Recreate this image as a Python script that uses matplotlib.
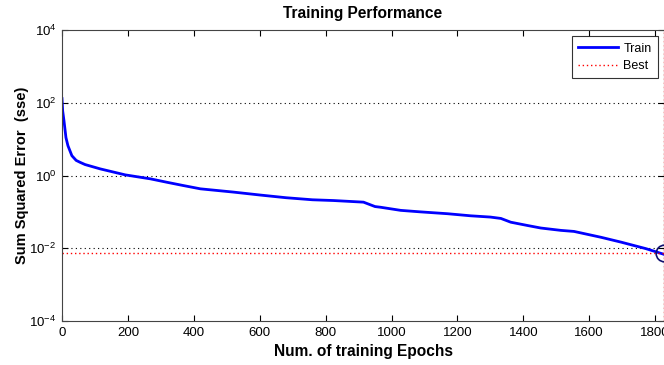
import numpy as np
import matplotlib
matplotlib.use('Agg')
import matplotlib.pyplot as plt

plt.rcParams['font.family'] = ['Liberation Sans', 'DejaVu Sans']
plt.rcParams['mathtext.fontset'] = 'custom'
plt.rcParams['mathtext.rm'] = 'Liberation Sans'
plt.rcParams['mathtext.it'] = 'Liberation Sans'

# values
epochs = [0, 2, 6, 12, 18, 30, 43, 55, 70, 116, 192, 268, 319, 368, 420, 520,
          602, 680, 760, 824, 915, 950, 967, 1028, 1088, 1170, 1240, 1300,
          1332, 1362, 1414, 1453, 1514, 1554, 1636, 1697, 1773, 1827]
sse = [130, 60, 32, 11, 6.6, 3.5, 2.6, 2.3, 2.0, 1.52, 1.04, 0.81, 0.65,
       0.53, 0.43, 0.35, 0.29, 0.245, 0.215, 0.205, 0.185, 0.14, 0.134, 0.11,
       0.10, 0.089, 0.078, 0.072, 0.066, 0.052, 0.042, 0.036, 0.031, 0.029,
       0.020, 0.0147, 0.0097, 0.0068]
best_epoch = 1827
best_sse = 0.0073
x_ticks = [0, 200, 400, 600, 800, 1000, 1200, 1400, 1600, 1800]
y_ticks = [1e-4, 1e-2, 1e0, 1e2, 1e4]
y_labels = ['$10^{-4}$', '$10^{-2}$', '$10^{0}$', '$10^{2}$', '$10^{4}$']

fig = plt.figure(figsize=(6.64, 3.65), dpi=100)
ax = fig.add_axes([62/664, 1-321/365, 602/664, 291/365])

# dotted grid at the labelled decades
for yv in [1e2, 1e0, 1e-2]:
    ax.axhline(yv, color='k', linestyle=(0, (1, 3)), linewidth=0.8)

ax.plot(epochs, sse, color='b', linewidth=2, label='Train')
ax.axhline(best_sse, color='r', linestyle=(0, (1, 2)), linewidth=1, label='Best')
ax.axvline(best_epoch, color='r', linestyle=(0, (1, 2)), linewidth=1)
ax.plot([best_epoch], [best_sse], 'o', markerfacecolor='none',
        markeredgecolor='#101070', markersize=12, markeredgewidth=1.2)

ax.set_yscale('log')
ax.set_xlim(0, 1827)
ax.set_ylim(1e-4, 1e4)
ax.set_xticks(x_ticks)
ax.set_yticks(y_ticks)
ax.set_yticklabels(y_labels)
ax.minorticks_off()
ax.tick_params(direction='in', top=True, right=True, length=4,
               labelsize=9.5, pad=4)
for s in ax.spines.values():
    s.set_color('#444444')

ax.set_title('Training Performance', fontsize=11.2, fontweight='bold', pad=9)
ax.set_xlabel('Num. of training Epochs', fontsize=11.2, fontweight='bold',
              labelpad=4)
ax.set_ylabel('Sum Squared Error  (sse)', fontsize=10.5, fontweight='bold',
              labelpad=0)

leg = ax.legend(loc='upper right', fontsize=9, frameon=True, fancybox=False,
                borderaxespad=0.5, handlelength=3.2, borderpad=0.5,
                labelspacing=0.45, handletextpad=0.4)
leg.get_frame().set_edgecolor('k')
leg.get_frame().set_linewidth(0.8)

fig.savefig('out.png', dpi=100)
